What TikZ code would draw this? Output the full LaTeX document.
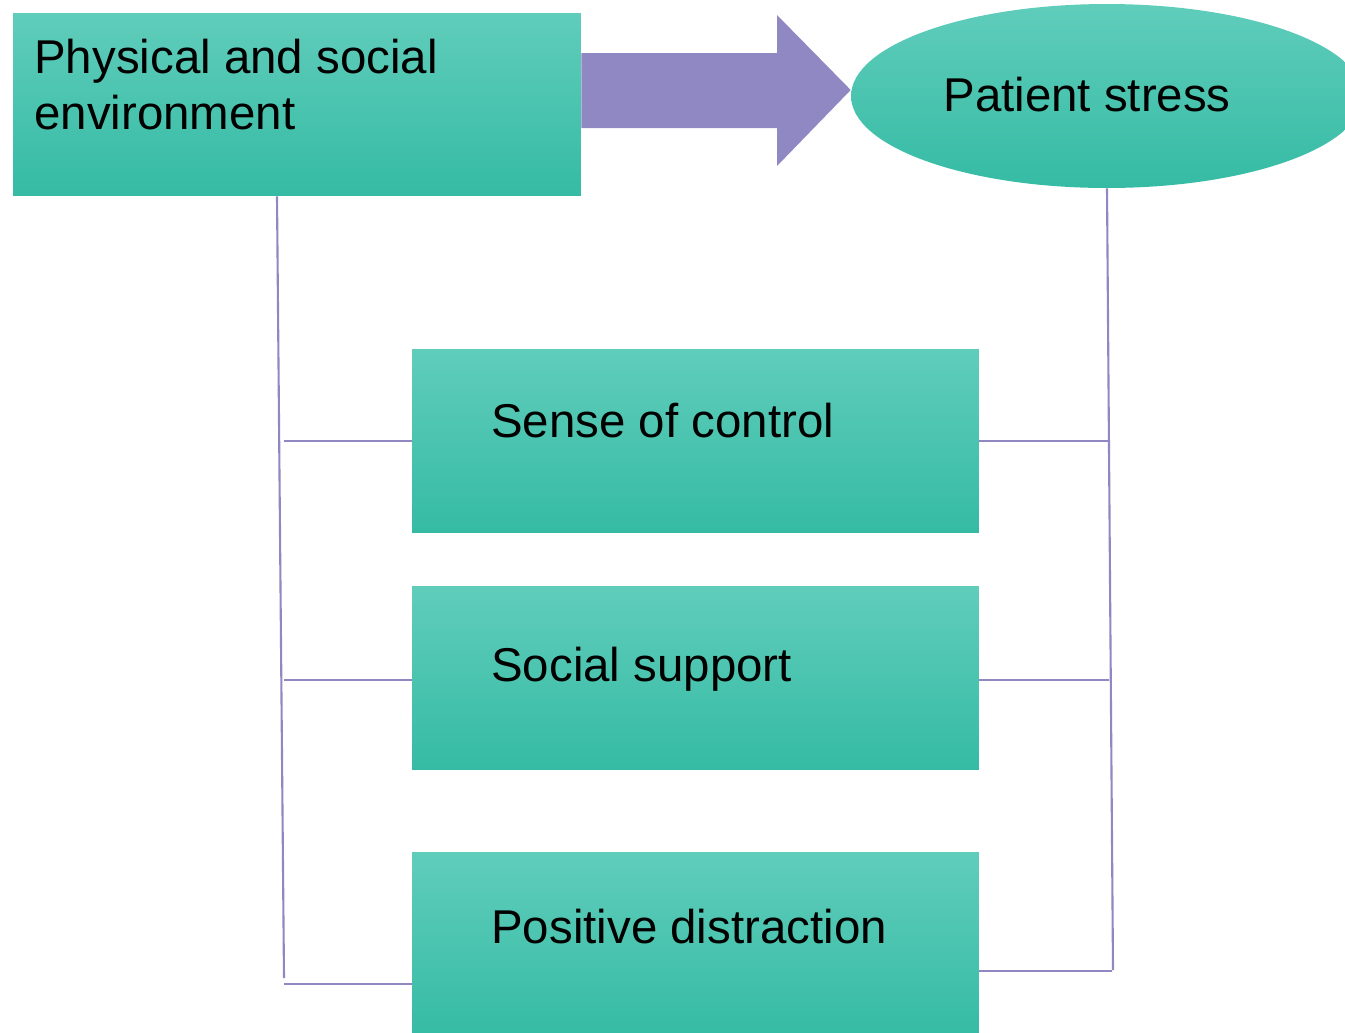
\documentclass[tikz,border=0pt]{standalone}
\usepackage{fontspec}
\setmainfont{Liberation Sans}
\usetikzlibrary{shapes.geometric}
\definecolor{tealtop}{HTML}{60CDBB}
\definecolor{tealmid}{HTML}{44CBB3}
\definecolor{tealbot}{HTML}{35BBA4}
\definecolor{lilac}{HTML}{8F88C2}
\tikzset{
	tealbox/.style={rectangle, inner sep=0pt, top color=tealtop, middle color=tealmid, bottom color=tealbot, minimum width=11.34cm},
	boxtext/.style={anchor=base west, inner sep=0pt, font=\fontsize{27}{32}\selectfont},
	link/.style={draw=lilac, line width=1.2pt},
}

\begin{document}
\begin{tikzpicture}[x=0.02cm, y=-0.02cm]
			%%%%% START %%%%%
			
			\useasboundingbox (0,0) rectangle (1345,1032);
			\clip (0,0) rectangle (1345,1032);
			
			\node[tealbox, minimum width=11.36cm, minimum height=3.66cm] (env) at (297,104.5) {};
			\node[ellipse, inner sep=0pt, top color=tealtop, middle color=tealmid, bottom color=tealbot, minimum width=10.24cm, minimum height=3.68cm] (stress) at (1107,96) {};
			\node[tealbox, minimum height=3.68cm] (control) at (695.5,441) {};
			\node[tealbox, minimum height=3.66cm] (support) at (695.5,678) {};
			\node[tealbox, minimum height=3.7cm] (distract) at (695.5,944.5) {};
			
			\node[boxtext] (envtxta) at (34,73) {Physical and social};
			\node[boxtext] (envtxtb) at (34,129) {environment};
			\node[boxtext] (stresstxt) at (943,111) {Patient stress};
			\node[boxtext] (controltxt) at (491,437) {Sense of control};
			\node[boxtext] (supporttxt) at (491,681) {Social support};
			\node[boxtext] (distracttxt) at (491,943) {Positive distraction};
			
			\fill[lilac] (env.east |- 0,53) -- (777,53) -- (777,15) -- (stress.west |- 0,90) -- (777,166) -- (777,128) -- (env.east |- 0,128) -- cycle;
			
			\coordinate (lbot) at (284,978);
			\coordinate (rbot) at (1113,970);
			\draw[link] (env.south -| 277,0) -- (lbot);
			\draw[link] (stress.south) -- (rbot);
			
			\draw[link] (control.west -| 284,0) -- (control.west);
			\draw[link] (control.east) -- (control.east -| 1108,0);
			\draw[link] (support.west |- 0,680) -- (284,680);
			\draw[link] (support.east |- 0,680) -- (1109,680);
			\draw[link] (distract.west |- 0,984) -- (284,984);
			\draw[link] (distract.east |- 0,971) -- (1112,971);
			
			%%%%% END %%%%%
\end{tikzpicture}
\end{document}
